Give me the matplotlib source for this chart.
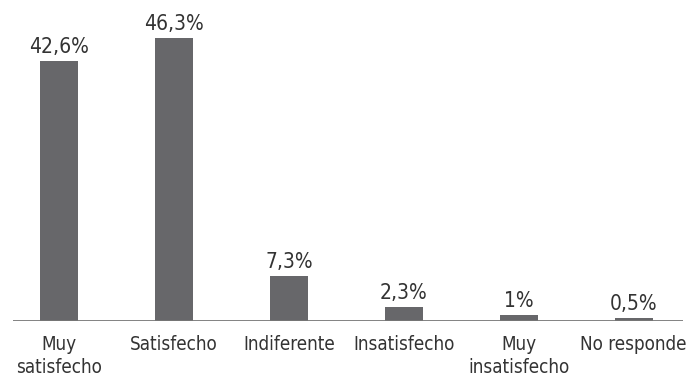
import matplotlib.pyplot as plt

categories = ["Muy\nsatisfecho", "Satisfecho", "Indiferente", "Insatisfecho",
              "Muy\ninsatisfecho", "No responde"]
values = [42.6, 46.3, 7.3, 2.3, 1.0, 0.5]
value_labels = ["42,6%", "46,3%", "7,3%", "2,3%", "1%", "0,5%"]

plt.rcParams['font.family'] = ['DejaVu Sans']
plt.rcParams['font.stretch'] = 'condensed'

fig = plt.figure(figsize=(6.89, 3.83), dpi=100)
ax = fig.add_axes([13 / 689, 62 / 383, 670 / 689, 321 / 383])

x = list(range(len(values)))
bars = ax.bar(x, values, width=0.33, color="#67676a", zorder=2)

for xi, v, lab in zip(x, values, value_labels):
    ax.text(xi, v + 0.7, lab, ha="center", va="bottom", fontsize=15,
            color="#333333", fontstretch="condensed")

ax.set_xlim(-0.4, 5.43)
ax.set_ylim(0, 52.6)
ax.axhline(0, color="#777777", lw=2, zorder=3)

ax.set_xticks(x)
ax.set_xticklabels(categories, fontsize=13.5, color="#333333", linespacing=1.3,
                   fontstretch="condensed")
ax.tick_params(axis="x", length=0, pad=10)
ax.set_yticks([])
for s in ax.spines.values():
    s.set_visible(False)

fig.savefig("out.png", dpi=100)
